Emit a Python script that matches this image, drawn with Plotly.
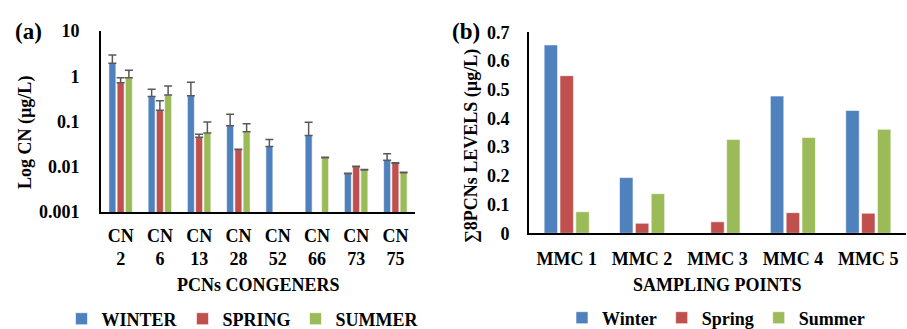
import plotly.graph_objects as go

# ---- Panel (a) data ----
congeners = ["CN<br>2", "CN<br>6", "CN<br>13", "CN<br>28", "CN<br>52", "CN<br>66", "CN<br>73", "CN<br>75"]
winter_a = [1.94, 0.355, 0.373, 0.081, 0.028, 0.049, 0.0070, 0.0140]
spring_a = [0.72, 0.177, 0.045, 0.024, None, None, 0.0100, 0.0120]
summer_a = [0.93, 0.386, 0.056, 0.059, None, 0.0158, 0.0085, 0.0074]
winter_err = [1.0, 0.16, 0.36, 0.064, 0.012, 0.047, 0.0002, 0.0055]
spring_err = [0.21, 0.11, 0.007, 0.0005, 0, 0, 0.0003, 0.0003]
summer_err = [0.43, 0.225, 0.042, 0.03, 0, 0.0004, 0.0002, 0.0002]

# ---- Panel (b) data ----
points = ["MMC 1", "MMC 2", "MMC 3", "MMC 4", "MMC 5"]
winter_b = [0.656, 0.194, 0.0, 0.478, 0.428]
spring_b = [0.549, 0.035, 0.040, 0.072, 0.070]
summer_b = [0.075, 0.138, 0.327, 0.334, 0.362]

BLUE, RED, GREEN = "#4F81BD", "#C0504D", "#9BBB59"
FONT = "Liberation Serif"
ERRC = "#595959"

fig = go.Figure()

def err(vals):
    return dict(type="data", array=vals, arrayminus=[0] * len(vals), symmetric=False,
                color=ERRC, thickness=1.5, width=4)

for name, vals, e, c in [("WINTER", winter_a, winter_err, BLUE),
                         ("SPRING", spring_a, spring_err, RED),
                         ("SUMMER", summer_a, summer_err, GREEN)]:
    fig.add_trace(go.Bar(x=congeners, y=vals, name=name, marker_color=c,
                         marker_line=dict(color="white", width=0.6),
                         error_y=err(e), xaxis="x", yaxis="y", legend="legend"))

for name, vals, c in [("Winter", winter_b, BLUE), ("Spring", spring_b, RED), ("Summer", summer_b, GREEN)]:
    fig.add_trace(go.Bar(x=points, y=vals, name=name, marker_color=c,
                         marker_line=dict(color="white", width=0.6),
                         xaxis="x2", yaxis="y2", legend="legend2"))

tickfont = dict(family=FONT, size=18, color="black")


def label(text, x, y, size=18, angle=0):
    return dict(text=text, x=x / 907, y=1 - y / 329, xref="paper", yref="paper",
                xanchor="center", yanchor="middle", showarrow=False, textangle=angle,
                font=dict(family=FONT, size=size, color="black"))


fig.update_layout(
    width=907, height=329,
    margin=dict(l=0, r=0, t=0, b=0, autoexpand=False),
    paper_bgcolor="white", plot_bgcolor="white",
    barmode="group", bargap=0.37, bargroupgap=0.15,
    font=dict(family=FONT, size=18, color="black", weight="bold"),
    xaxis=dict(domain=[101 / 907, 415 / 907], anchor="y", showline=True, linecolor="black",
               linewidth=2, ticks="", tickfont=tickfont, ticklabelstandoff=6, showgrid=False,
               automargin=False),
    yaxis=dict(domain=[1 - 212 / 329, 1 - 31 / 329], anchor="x", type="log", range=[-3, 1],
               tickvals=[0.001, 0.01, 0.1, 1, 10], ticktext=["0.001", "0.01", "0.1", "1", "10"],
               showline=True, linecolor="black", linewidth=2, ticks="", showgrid=False,
               tickfont=tickfont, ticklabelstandoff=16, automargin=False),
    xaxis2=dict(domain=[529 / 907, 906 / 907], anchor="y2", showline=True, linecolor="black",
                linewidth=2, ticks="", tickfont=tickfont, ticklabelstandoff=8, showgrid=False,
                automargin=False),
    yaxis2=dict(domain=[1 - 233.3 / 329, 1 - 32.3 / 329], anchor="x2", range=[0, 0.7],
                tickvals=[0, 0.1, 0.2, 0.3, 0.4, 0.5, 0.6, 0.7],
                ticktext=["0", "0.1", "0.2", "0.3", "0.4", "0.5", "0.6", "0.7"],
                showline=True, linecolor="black", linewidth=2, ticks="", showgrid=False,
                tickfont=tickfont, ticklabelstandoff=14, automargin=False),
    legend=dict(orientation="h", x=243 / 907, xanchor="center", y=1 - 319 / 329, yanchor="middle",
                font=dict(family=FONT, size=18, color="black"), itemwidth=30, traceorder="normal",
                bgcolor="rgba(0,0,0,0)"),
    legend2=dict(orientation="h", x=716 / 907, xanchor="center", y=1 - 318 / 329, yanchor="middle",
                 font=dict(family=FONT, size=18, color="black"), itemwidth=30, traceorder="normal",
                 bgcolor="rgba(0,0,0,0)"),
    showlegend=True,
    annotations=[
        label("(a)", 28, 31, size=23),
        label("(b)", 466, 31, size=23),
        label("Log CN (µg/L)", 25, 133, angle=-90),
        label("∑8PCNs LEVELS (µg/L)", 471, 146, angle=-90),
        label("PCNs CONGENERS", 258, 285),
        label("SAMPLING POINTS", 717, 285),
    ],
)

fig.write_html("out.html", config={"displayModeBar": False},
               post_script="document.body.style.margin='0';document.body.style.padding='0';")
